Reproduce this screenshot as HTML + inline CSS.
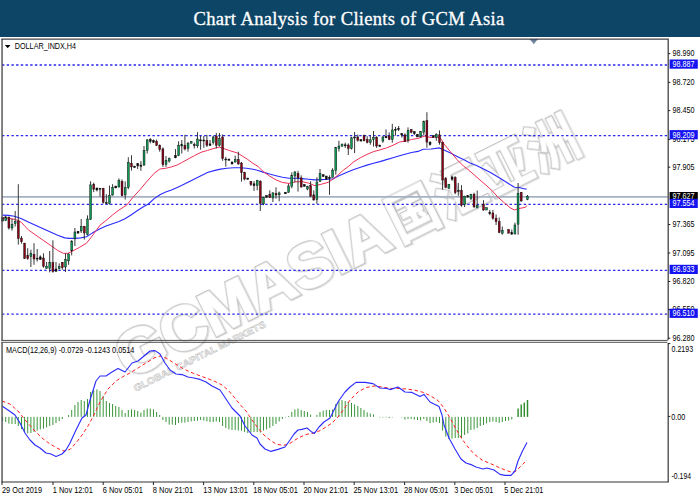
<!DOCTYPE html>
<html><head><meta charset="utf-8"><title>Chart Analysis for Clients of GCM Asia</title>
<style>
html,body{margin:0;padding:0;background:#fff;}
body{width:700px;height:500px;overflow:hidden;position:relative;font-family:"Liberation Sans",sans-serif;}
#hdr{position:absolute;left:0;top:0;width:700px;height:36.5px;background:#0d4567;}
#hdr h1{margin:0;position:absolute;left:0;width:700px;top:0.8px;height:36px;line-height:36px;-webkit-text-stroke:0.3px #fff;text-align:center;color:#fff;font-family:"Liberation Serif",serif;font-weight:normal;font-size:18.6px;letter-spacing:0.26px;word-spacing:0.4px;text-indent:-2px;}
svg{position:absolute;left:0;top:0;}
.lb{font-family:"Liberation Sans",sans-serif;font-size:8.3px;fill:#000;}
.lw{font-family:"Liberation Sans",sans-serif;font-size:8.3px;fill:#fff;}
.wm{font-family:"Liberation Sans","Noto Sans CJK SC",sans-serif;font-weight:bold;}
</style></head><body>
<div id="hdr"><h1>Chart Analysis for Clients of GCM Asia</h1></div>
<svg width="700" height="500" viewBox="0 0 700 500">
<defs><filter id="soft" x="0" y="0" width="100%" height="100%" filterUnits="userSpaceOnUse"><feGaussianBlur stdDeviation="0.32"/></filter><filter id="wsh" x="-10" y="-80" width="560" height="120" filterUnits="userSpaceOnUse"><feOffset in="SourceAlpha" dx="1.3" dy="1.3" result="o"/><feFlood flood-color="#e4e4e4"/><feComposite in2="o" operator="in" result="sh"/><feMerge><feMergeNode in="sh"/><feMergeNode in="SourceGraphic"/></feMerge></filter></defs>
<g class="wm" transform="translate(128.5,379.6) rotate(-26.5)" stroke-linejoin="miter">
<g filter="url(#wsh)">
<g fill="#c0c0c0" stroke="#c0c0c0" stroke-width="3.8">
<text font-size="63" x="0" y="0">GCMASIA</text>
</g>
<g fill="#c0c0c0" stroke="#c0c0c0" stroke-width="2.6">
<text transform="translate(0,-2.3) scale(0.98,1.09)" font-size="51" font-weight="700" font-family="Noto Sans CJK SC, sans-serif" x="309.9 363 416 469.1" y="0">国汇亚洲</text>
</g>
<g fill="#fff" stroke="#fff" stroke-width="1.7">
<text font-size="63" x="0" y="0">GCMASIA</text>
</g>
<g fill="#fff" stroke="#fff" stroke-width="0.5">
<text transform="translate(0,-2.3) scale(0.98,1.09)" font-size="51" font-weight="700" font-family="Noto Sans CJK SC, sans-serif" x="309.9 363 416 469.1" y="0">国汇亚洲</text>
</g>
</g>
<text font-size="9.6" x="1" y="14.2" fill="#fff" stroke="#bcbcbc" stroke-width="0.55" textLength="146" lengthAdjust="spacingAndGlyphs" font-weight="bold">GLOBAL CAPITAL MARKETS</text>
</g>
<g filter="url(#soft)">
<line x1="2" x2="668" y1="196.8" y2="196.8" stroke="#a6b2c2" stroke-width="1.7"/>
<line x1="2" x2="668" y1="65.0" y2="65.0" stroke="#2a2aee" stroke-width="1.3" stroke-dasharray="2.4 2.3"/>
<line x1="2" x2="668" y1="135.6" y2="135.6" stroke="#2a2aee" stroke-width="1.3" stroke-dasharray="2.4 2.3"/>
<line x1="2" x2="668" y1="204.3" y2="204.3" stroke="#2a2aee" stroke-width="1.3" stroke-dasharray="2.4 2.3"/>
<line x1="2" x2="668" y1="270.3" y2="270.3" stroke="#2a2aee" stroke-width="1.3" stroke-dasharray="2.4 2.3"/>
<line x1="2" x2="668" y1="314.2" y2="314.2" stroke="#2a2aee" stroke-width="1.3" stroke-dasharray="2.4 2.3"/>
<polyline points="2.6,215.1 8.6,215.4 14.4,216.2 21.6,218.7 28.8,222.3 36.0,225.5 43.2,228.8 50.4,232.1 57.6,235.3 64.8,237.9 69.2,238.4 74.9,238.4 80.7,237.9 86.5,236.7 92.2,233.1 100.0,228.8 106.0,226.0 112.5,223.7 119.0,221.5 125.0,218.7 131.0,215.0 137.5,210.5 143.0,207.0 148.4,204.0 154.2,198.6 159.9,194.7 165.7,192.1 171.5,189.9 177.2,187.4 181.5,185.5 188.0,182.2 194.5,179.0 201.0,175.7 207.5,172.5 214.0,170.6 220.5,169.1 227.0,168.3 233.5,167.8 240.0,167.7 246.5,168.2 253.0,169.3 258.2,170.5 263.0,172.1 269.5,174.0 276.0,175.7 282.5,177.3 289.0,178.2 295.5,178.2 302.0,178.6 308.5,179.2 315.0,179.9 321.5,179.6 328.0,179.2 333.2,178.7 338.4,175.9 343.6,173.7 348.8,171.6 354.0,169.6 360.5,167.2 367.0,165.1 373.5,163.3 380.0,161.6 386.5,159.6 393.0,157.7 399.5,155.7 406.0,154.0 411.5,152.5 418.0,151.4 423.2,149.2 431.0,149.0 439.5,147.9 444.0,150.0 450.5,153.1 457.0,156.4 463.5,159.6 470.0,162.9 476.5,165.5 483.0,168.7 490.5,172.5 498.0,177.0 504.0,180.7 510.0,184.5 514.5,187.2 519.0,187.5 525.0,189.0 526.8,189.0" fill="none" stroke="#2c2cff" stroke-width="1.12" stroke-linejoin="round"/>
<polyline points="2.6,217.7 8.6,218.3 14.4,219.4 18.7,220.6 21.6,222.6 25.2,226.6 28.8,230.2 36.0,235.3 43.2,240.3 50.4,245.3 57.6,250.4 63.4,253.3 67.7,253.3 72.0,251.4 79.3,247.5 86.5,243.2 92.2,236.0 100.0,225.2 106.0,220.5 112.5,215.0 119.0,210.0 126.8,205.0 132.6,197.8 139.8,189.9 147.0,181.3 154.2,173.3 159.9,169.0 165.7,168.3 171.5,166.9 177.2,165.0 181.5,162.7 188.0,159.1 194.5,155.6 201.0,152.3 207.5,150.4 214.0,148.4 219.2,147.1 223.1,148.4 229.6,150.6 237.4,153.0 242.6,156.2 247.8,159.5 253.0,163.4 258.2,166.6 263.0,171.4 269.5,176.0 276.0,179.9 282.5,182.5 289.0,183.4 295.5,181.8 302.0,181.6 308.5,183.1 315.0,185.7 321.5,184.2 328.0,182.4 333.2,179.1 338.4,174.6 343.6,170.0 348.8,166.1 354.0,161.6 360.5,157.7 367.0,154.4 373.5,151.6 380.0,149.9 386.5,147.9 393.0,145.3 399.5,142.0 406.0,141.1 411.5,139.5 418.0,138.4 424.5,136.2 431.0,137.5 436.2,136.9 440.1,137.5 444.0,144.0 450.5,151.8 457.0,159.6 463.5,166.1 468.0,169.5 474.0,174.7 480.0,180.0 486.0,185.2 492.0,190.5 498.0,197.2 504.0,202.5 510.0,207.7 514.5,210.0 519.0,208.5 525.0,207.4 527.2,205.5" fill="none" stroke="#ee3058" stroke-width="1.0" stroke-linejoin="round"/>
<line x1="2.6" x2="2.6" y1="217.7" y2="221.1" stroke="#222" stroke-width="0.9"/>
<rect x="1.65" y="217.7" width="1.9" height="3.4" fill="#111" stroke="#111" stroke-width="0.45"/>
<line x1="5.7" x2="5.7" y1="215.8" y2="221.1" stroke="#222" stroke-width="0.9"/>
<rect x="4.79" y="216.8" width="1.9" height="3.8" fill="#0a9a55" stroke="#111" stroke-width="0.45"/>
<line x1="8.9" x2="8.9" y1="216.5" y2="229.5" stroke="#222" stroke-width="0.9"/>
<rect x="7.94" y="217.2" width="1.9" height="10.8" fill="#8c0019" stroke="#111" stroke-width="0.45"/>
<line x1="12.0" x2="12.0" y1="218.7" y2="230.6" stroke="#222" stroke-width="0.9"/>
<rect x="11.08" y="224.5" width="1.9" height="3.5" fill="#0a9a55" stroke="#111" stroke-width="0.45"/>
<line x1="15.2" x2="15.2" y1="211.0" y2="226.6" stroke="#222" stroke-width="0.9"/>
<rect x="14.22" y="221.6" width="1.9" height="2.1" fill="#0a9a55" stroke="#111" stroke-width="0.45"/>
<line x1="18.3" x2="18.3" y1="184.2" y2="244.6" stroke="#222" stroke-width="0.9"/>
<rect x="17.37" y="220.9" width="1.9" height="17.5" fill="#8c0019" stroke="#111" stroke-width="0.45"/>
<line x1="21.5" x2="21.5" y1="236.0" y2="243.6" stroke="#222" stroke-width="0.9"/>
<rect x="20.51" y="238.1" width="1.9" height="3.6" fill="#8c0019" stroke="#111" stroke-width="0.45"/>
<line x1="24.6" x2="24.6" y1="242.8" y2="259.0" stroke="#222" stroke-width="0.9"/>
<rect x="23.65" y="243.2" width="1.9" height="15.1" fill="#8c0019" stroke="#111" stroke-width="0.45"/>
<line x1="27.7" x2="27.7" y1="248.2" y2="259.8" stroke="#222" stroke-width="0.9"/>
<rect x="26.79" y="255.4" width="1.9" height="3.2" fill="#8c0019" stroke="#111" stroke-width="0.45"/>
<line x1="30.9" x2="30.9" y1="249.7" y2="267.0" stroke="#222" stroke-width="0.9"/>
<rect x="29.94" y="253.3" width="1.9" height="3.3" fill="#0a9a55" stroke="#111" stroke-width="0.45"/>
<line x1="34.0" x2="34.0" y1="243.2" y2="264.8" stroke="#222" stroke-width="0.9"/>
<rect x="33.08" y="254.3" width="1.9" height="4.7" fill="#8c0019" stroke="#111" stroke-width="0.45"/>
<line x1="37.2" x2="37.2" y1="249.0" y2="261.5" stroke="#222" stroke-width="0.9"/>
<rect x="36.22" y="258.1" width="1.9" height="1.0" fill="#111" stroke="#111" stroke-width="0.45"/>
<line x1="40.3" x2="40.3" y1="255.4" y2="260.0" stroke="#222" stroke-width="0.9"/>
<rect x="39.37" y="256.9" width="1.9" height="2.6" fill="#111" stroke="#111" stroke-width="0.45"/>
<line x1="43.5" x2="43.5" y1="253.3" y2="267.7" stroke="#222" stroke-width="0.9"/>
<rect x="42.51" y="258.0" width="1.9" height="8.2" fill="#8c0019" stroke="#111" stroke-width="0.45"/>
<line x1="46.6" x2="46.6" y1="262.0" y2="268.7" stroke="#222" stroke-width="0.9"/>
<rect x="45.65" y="266.2" width="1.9" height="2.2" fill="#0a9a55" stroke="#111" stroke-width="0.45"/>
<line x1="49.7" x2="49.7" y1="251.0" y2="272.4" stroke="#222" stroke-width="0.9"/>
<rect x="48.79" y="262.3" width="1.9" height="6.1" fill="#0a9a55" stroke="#111" stroke-width="0.45"/>
<line x1="52.9" x2="52.9" y1="240.3" y2="272.7" stroke="#222" stroke-width="0.9"/>
<rect x="51.94" y="262.6" width="1.9" height="9.0" fill="#8c0019" stroke="#111" stroke-width="0.45"/>
<line x1="56.0" x2="56.0" y1="262.0" y2="271.6" stroke="#222" stroke-width="0.9"/>
<rect x="55.08" y="269.0" width="1.9" height="2.3" fill="#111" stroke="#111" stroke-width="0.45"/>
<line x1="59.2" x2="59.2" y1="263.4" y2="269.6" stroke="#222" stroke-width="0.9"/>
<rect x="58.22" y="266.7" width="1.9" height="2.0" fill="#0a9a55" stroke="#111" stroke-width="0.45"/>
<line x1="62.3" x2="62.3" y1="262.0" y2="269.8" stroke="#222" stroke-width="0.9"/>
<rect x="61.37" y="262.3" width="1.9" height="5.4" fill="#8c0019" stroke="#111" stroke-width="0.45"/>
<line x1="65.5" x2="65.5" y1="253.3" y2="272.0" stroke="#222" stroke-width="0.9"/>
<rect x="64.51" y="259.5" width="1.9" height="7.5" fill="#0a9a55" stroke="#111" stroke-width="0.45"/>
<line x1="68.6" x2="68.6" y1="253.3" y2="264.8" stroke="#222" stroke-width="0.9"/>
<rect x="67.65" y="254.0" width="1.9" height="6.9" fill="#0a9a55" stroke="#111" stroke-width="0.45"/>
<line x1="71.7" x2="71.7" y1="240.3" y2="255.4" stroke="#222" stroke-width="0.9"/>
<rect x="70.80" y="241.0" width="1.9" height="9.8" fill="#0a9a55" stroke="#111" stroke-width="0.45"/>
<line x1="74.9" x2="74.9" y1="228.0" y2="246.0" stroke="#222" stroke-width="0.9"/>
<rect x="73.94" y="232.0" width="1.9" height="6.9" fill="#0a9a55" stroke="#111" stroke-width="0.45"/>
<line x1="78.0" x2="78.0" y1="231.2" y2="233.2" stroke="#222" stroke-width="0.9"/>
<rect x="77.08" y="231.2" width="1.9" height="2.0" fill="#111" stroke="#111" stroke-width="0.45"/>
<line x1="81.2" x2="81.2" y1="219.0" y2="233.0" stroke="#222" stroke-width="0.9"/>
<rect x="80.22" y="226.3" width="1.9" height="4.7" fill="#0a9a55" stroke="#111" stroke-width="0.45"/>
<line x1="84.3" x2="84.3" y1="225.9" y2="239.6" stroke="#222" stroke-width="0.9"/>
<rect x="83.37" y="226.3" width="1.9" height="6.7" fill="#8c0019" stroke="#111" stroke-width="0.45"/>
<line x1="87.5" x2="87.5" y1="215.4" y2="235.3" stroke="#222" stroke-width="0.9"/>
<rect x="86.51" y="219.0" width="1.9" height="15.5" fill="#0a9a55" stroke="#111" stroke-width="0.45"/>
<line x1="90.6" x2="90.6" y1="181.3" y2="220.0" stroke="#222" stroke-width="0.9"/>
<rect x="89.65" y="184.9" width="1.9" height="34.5" fill="#0a9a55" stroke="#111" stroke-width="0.45"/>
<line x1="93.7" x2="93.7" y1="182.7" y2="192.1" stroke="#222" stroke-width="0.9"/>
<rect x="92.80" y="184.2" width="1.9" height="5.0" fill="#8c0019" stroke="#111" stroke-width="0.45"/>
<line x1="96.9" x2="96.9" y1="187.8" y2="191.4" stroke="#222" stroke-width="0.9"/>
<rect x="95.94" y="188.0" width="1.9" height="2.0" fill="#111" stroke="#111" stroke-width="0.45"/>
<line x1="100.0" x2="100.0" y1="188.2" y2="196.4" stroke="#222" stroke-width="0.9"/>
<rect x="99.08" y="188.2" width="1.9" height="1.0" fill="#111" stroke="#111" stroke-width="0.45"/>
<line x1="103.2" x2="103.2" y1="187.8" y2="203.6" stroke="#222" stroke-width="0.9"/>
<rect x="102.23" y="188.5" width="1.9" height="13.7" fill="#8c0019" stroke="#111" stroke-width="0.45"/>
<line x1="106.3" x2="106.3" y1="194.2" y2="204.3" stroke="#222" stroke-width="0.9"/>
<rect x="105.37" y="202.5" width="1.9" height="1.0" fill="#111" stroke="#111" stroke-width="0.45"/>
<line x1="109.5" x2="109.5" y1="185.6" y2="204.6" stroke="#222" stroke-width="0.9"/>
<rect x="108.51" y="195.2" width="1.9" height="8.4" fill="#0a9a55" stroke="#111" stroke-width="0.45"/>
<line x1="112.6" x2="112.6" y1="184.2" y2="195.7" stroke="#222" stroke-width="0.9"/>
<rect x="111.65" y="187.5" width="1.9" height="7.5" fill="#0a9a55" stroke="#111" stroke-width="0.45"/>
<line x1="115.7" x2="115.7" y1="186.0" y2="188.0" stroke="#222" stroke-width="0.9"/>
<rect x="114.80" y="186.0" width="1.9" height="2.0" fill="#111" stroke="#111" stroke-width="0.45"/>
<line x1="118.9" x2="118.9" y1="178.4" y2="187.5" stroke="#222" stroke-width="0.9"/>
<rect x="117.94" y="180.5" width="1.9" height="6.5" fill="#0a9a55" stroke="#111" stroke-width="0.45"/>
<line x1="122.0" x2="122.0" y1="179.4" y2="196.4" stroke="#222" stroke-width="0.9"/>
<rect x="121.08" y="181.3" width="1.9" height="14.4" fill="#8c0019" stroke="#111" stroke-width="0.45"/>
<line x1="125.2" x2="125.2" y1="181.3" y2="199.6" stroke="#222" stroke-width="0.9"/>
<rect x="124.23" y="187.5" width="1.9" height="7.5" fill="#0a9a55" stroke="#111" stroke-width="0.45"/>
<line x1="128.3" x2="128.3" y1="157.2" y2="189.2" stroke="#222" stroke-width="0.9"/>
<rect x="127.37" y="162.5" width="1.9" height="25.0" fill="#0a9a55" stroke="#111" stroke-width="0.45"/>
<line x1="131.5" x2="131.5" y1="155.3" y2="170.5" stroke="#222" stroke-width="0.9"/>
<rect x="130.51" y="163.3" width="1.9" height="3.6" fill="#8c0019" stroke="#111" stroke-width="0.45"/>
<line x1="134.6" x2="134.6" y1="166.1" y2="167.6" stroke="#222" stroke-width="0.9"/>
<rect x="133.66" y="166.1" width="1.9" height="1.5" fill="#111" stroke="#111" stroke-width="0.45"/>
<line x1="137.7" x2="137.7" y1="163.0" y2="169.0" stroke="#222" stroke-width="0.9"/>
<rect x="136.80" y="163.5" width="1.9" height="2.4" fill="#111" stroke="#111" stroke-width="0.45"/>
<line x1="140.9" x2="140.9" y1="161.1" y2="170.8" stroke="#222" stroke-width="0.9"/>
<rect x="139.94" y="165.0" width="1.9" height="1.4" fill="#111" stroke="#111" stroke-width="0.45"/>
<line x1="144.0" x2="144.0" y1="146.0" y2="165.9" stroke="#222" stroke-width="0.9"/>
<rect x="143.09" y="150.3" width="1.9" height="14.7" fill="#0a9a55" stroke="#111" stroke-width="0.45"/>
<line x1="147.2" x2="147.2" y1="139.0" y2="153.5" stroke="#222" stroke-width="0.9"/>
<rect x="146.23" y="139.9" width="1.9" height="10.4" fill="#0a9a55" stroke="#111" stroke-width="0.45"/>
<line x1="150.3" x2="150.3" y1="138.0" y2="143.4" stroke="#222" stroke-width="0.9"/>
<rect x="149.37" y="139.5" width="1.9" height="1.9" fill="#111" stroke="#111" stroke-width="0.45"/>
<line x1="153.5" x2="153.5" y1="139.5" y2="143.0" stroke="#222" stroke-width="0.9"/>
<rect x="152.51" y="140.5" width="1.9" height="1.9" fill="#111" stroke="#111" stroke-width="0.45"/>
<line x1="156.6" x2="156.6" y1="139.5" y2="146.0" stroke="#222" stroke-width="0.9"/>
<rect x="155.66" y="141.4" width="1.9" height="3.8" fill="#8c0019" stroke="#111" stroke-width="0.45"/>
<line x1="159.7" x2="159.7" y1="144.5" y2="151.7" stroke="#222" stroke-width="0.9"/>
<rect x="158.80" y="145.2" width="1.9" height="4.4" fill="#8c0019" stroke="#111" stroke-width="0.45"/>
<line x1="162.9" x2="162.9" y1="147.4" y2="166.9" stroke="#222" stroke-width="0.9"/>
<rect x="161.94" y="148.9" width="1.9" height="15.8" fill="#8c0019" stroke="#111" stroke-width="0.45"/>
<line x1="166.0" x2="166.0" y1="156.0" y2="166.9" stroke="#222" stroke-width="0.9"/>
<rect x="165.09" y="160.4" width="1.9" height="4.0" fill="#0a9a55" stroke="#111" stroke-width="0.45"/>
<line x1="169.2" x2="169.2" y1="157.5" y2="162.5" stroke="#222" stroke-width="0.9"/>
<rect x="168.23" y="158.6" width="1.9" height="2.5" fill="#0a9a55" stroke="#111" stroke-width="0.45"/>
<line x1="175.5" x2="175.5" y1="149.1" y2="158.2" stroke="#222" stroke-width="0.9"/>
<rect x="174.51" y="155.3" width="1.9" height="2.5" fill="#111" stroke="#111" stroke-width="0.45"/>
<line x1="178.6" x2="178.6" y1="141.3" y2="156.2" stroke="#222" stroke-width="0.9"/>
<rect x="177.66" y="145.2" width="1.9" height="10.4" fill="#0a9a55" stroke="#111" stroke-width="0.45"/>
<line x1="181.8" x2="181.8" y1="140.0" y2="153.5" stroke="#222" stroke-width="0.9"/>
<rect x="180.80" y="144.3" width="1.9" height="1.7" fill="#0a9a55" stroke="#111" stroke-width="0.45"/>
<line x1="184.9" x2="184.9" y1="134.8" y2="150.4" stroke="#222" stroke-width="0.9"/>
<rect x="183.94" y="145.2" width="1.9" height="3.8" fill="#8c0019" stroke="#111" stroke-width="0.45"/>
<line x1="188.0" x2="188.0" y1="141.9" y2="151.7" stroke="#222" stroke-width="0.9"/>
<rect x="187.09" y="143.2" width="1.9" height="5.2" fill="#0a9a55" stroke="#111" stroke-width="0.45"/>
<line x1="191.2" x2="191.2" y1="141.0" y2="143.5" stroke="#222" stroke-width="0.9"/>
<rect x="190.23" y="141.3" width="1.9" height="1.9" fill="#0a9a55" stroke="#111" stroke-width="0.45"/>
<line x1="194.3" x2="194.3" y1="142.6" y2="148.4" stroke="#222" stroke-width="0.9"/>
<rect x="193.37" y="144.7" width="1.9" height="1.0" fill="#111" stroke="#111" stroke-width="0.45"/>
<line x1="197.5" x2="197.5" y1="132.2" y2="147.8" stroke="#222" stroke-width="0.9"/>
<rect x="196.52" y="139.0" width="1.9" height="6.8" fill="#0a9a55" stroke="#111" stroke-width="0.45"/>
<line x1="200.6" x2="200.6" y1="136.0" y2="149.7" stroke="#222" stroke-width="0.9"/>
<rect x="199.66" y="139.9" width="1.9" height="1.0" fill="#111" stroke="#111" stroke-width="0.45"/>
<line x1="203.8" x2="203.8" y1="136.0" y2="147.8" stroke="#222" stroke-width="0.9"/>
<rect x="202.80" y="140.0" width="1.9" height="1.0" fill="#111" stroke="#111" stroke-width="0.45"/>
<line x1="206.9" x2="206.9" y1="134.8" y2="147.0" stroke="#222" stroke-width="0.9"/>
<rect x="205.94" y="140.6" width="1.9" height="4.6" fill="#8c0019" stroke="#111" stroke-width="0.45"/>
<line x1="210.0" x2="210.0" y1="140.0" y2="145.8" stroke="#222" stroke-width="0.9"/>
<rect x="209.09" y="143.9" width="1.9" height="1.6" fill="#111" stroke="#111" stroke-width="0.45"/>
<line x1="213.2" x2="213.2" y1="136.0" y2="144.5" stroke="#222" stroke-width="0.9"/>
<rect x="212.23" y="137.0" width="1.9" height="5.6" fill="#0a9a55" stroke="#111" stroke-width="0.45"/>
<line x1="216.3" x2="216.3" y1="132.8" y2="148.4" stroke="#222" stroke-width="0.9"/>
<rect x="215.37" y="136.0" width="1.9" height="9.2" fill="#8c0019" stroke="#111" stroke-width="0.45"/>
<line x1="219.5" x2="219.5" y1="133.0" y2="146.5" stroke="#222" stroke-width="0.9"/>
<rect x="218.52" y="138.7" width="1.9" height="6.8" fill="#0a9a55" stroke="#111" stroke-width="0.45"/>
<line x1="222.6" x2="222.6" y1="134.4" y2="160.8" stroke="#222" stroke-width="0.9"/>
<rect x="221.66" y="137.0" width="1.9" height="21.5" fill="#8c0019" stroke="#111" stroke-width="0.45"/>
<line x1="225.8" x2="225.8" y1="156.9" y2="166.6" stroke="#222" stroke-width="0.9"/>
<rect x="224.80" y="159.0" width="1.9" height="1.0" fill="#111" stroke="#111" stroke-width="0.45"/>
<line x1="228.9" x2="228.9" y1="159.0" y2="160.4" stroke="#222" stroke-width="0.9"/>
<rect x="227.95" y="159.0" width="1.9" height="1.4" fill="#111" stroke="#111" stroke-width="0.45"/>
<line x1="232.0" x2="232.0" y1="161.5" y2="164.3" stroke="#222" stroke-width="0.9"/>
<rect x="231.09" y="162.0" width="1.9" height="2.0" fill="#111" stroke="#111" stroke-width="0.45"/>
<line x1="235.2" x2="235.2" y1="155.6" y2="162.7" stroke="#222" stroke-width="0.9"/>
<rect x="234.23" y="159.5" width="1.9" height="2.5" fill="#0a9a55" stroke="#111" stroke-width="0.45"/>
<line x1="238.3" x2="238.3" y1="151.7" y2="164.7" stroke="#222" stroke-width="0.9"/>
<rect x="237.38" y="159.5" width="1.9" height="4.5" fill="#8c0019" stroke="#111" stroke-width="0.45"/>
<line x1="241.5" x2="241.5" y1="162.0" y2="181.6" stroke="#222" stroke-width="0.9"/>
<rect x="240.52" y="163.0" width="1.9" height="9.5" fill="#8c0019" stroke="#111" stroke-width="0.45"/>
<line x1="244.6" x2="244.6" y1="171.8" y2="180.3" stroke="#222" stroke-width="0.9"/>
<rect x="243.66" y="172.5" width="1.9" height="6.5" fill="#8c0019" stroke="#111" stroke-width="0.45"/>
<line x1="247.8" x2="247.8" y1="178.0" y2="179.4" stroke="#222" stroke-width="0.9"/>
<rect x="246.80" y="178.0" width="1.9" height="1.4" fill="#111" stroke="#111" stroke-width="0.45"/>
<line x1="250.9" x2="250.9" y1="181.0" y2="186.0" stroke="#222" stroke-width="0.9"/>
<rect x="249.95" y="181.6" width="1.9" height="3.0" fill="#8c0019" stroke="#111" stroke-width="0.45"/>
<line x1="254.0" x2="254.0" y1="181.2" y2="190.9" stroke="#222" stroke-width="0.9"/>
<rect x="253.09" y="183.8" width="1.9" height="1.9" fill="#111" stroke="#111" stroke-width="0.45"/>
<line x1="257.2" x2="257.2" y1="179.9" y2="190.3" stroke="#222" stroke-width="0.9"/>
<rect x="256.23" y="180.5" width="1.9" height="5.2" fill="#0a9a55" stroke="#111" stroke-width="0.45"/>
<line x1="260.3" x2="260.3" y1="180.2" y2="211.0" stroke="#222" stroke-width="0.9"/>
<rect x="259.38" y="181.2" width="1.9" height="22.1" fill="#8c0019" stroke="#111" stroke-width="0.45"/>
<line x1="263.5" x2="263.5" y1="196.8" y2="205.2" stroke="#222" stroke-width="0.9"/>
<rect x="262.52" y="197.2" width="1.9" height="6.7" fill="#0a9a55" stroke="#111" stroke-width="0.45"/>
<line x1="266.6" x2="266.6" y1="195.5" y2="197.4" stroke="#222" stroke-width="0.9"/>
<rect x="265.66" y="195.5" width="1.9" height="1.9" fill="#111" stroke="#111" stroke-width="0.45"/>
<line x1="269.8" x2="269.8" y1="190.3" y2="198.0" stroke="#222" stroke-width="0.9"/>
<rect x="268.81" y="194.2" width="1.9" height="3.2" fill="#8c0019" stroke="#111" stroke-width="0.45"/>
<line x1="272.9" x2="272.9" y1="192.2" y2="202.0" stroke="#222" stroke-width="0.9"/>
<rect x="271.95" y="192.9" width="1.9" height="5.1" fill="#0a9a55" stroke="#111" stroke-width="0.45"/>
<line x1="276.0" x2="276.0" y1="187.3" y2="198.7" stroke="#222" stroke-width="0.9"/>
<rect x="275.09" y="193.3" width="1.9" height="1.7" fill="#8c0019" stroke="#111" stroke-width="0.45"/>
<line x1="279.2" x2="279.2" y1="191.6" y2="201.3" stroke="#222" stroke-width="0.9"/>
<rect x="278.23" y="192.9" width="1.9" height="1.9" fill="#0a9a55" stroke="#111" stroke-width="0.45"/>
<line x1="285.5" x2="285.5" y1="192.2" y2="193.8" stroke="#222" stroke-width="0.9"/>
<rect x="284.52" y="192.2" width="1.9" height="1.6" fill="#111" stroke="#111" stroke-width="0.45"/>
<line x1="288.6" x2="288.6" y1="183.8" y2="192.9" stroke="#222" stroke-width="0.9"/>
<rect x="287.66" y="186.0" width="1.9" height="6.2" fill="#0a9a55" stroke="#111" stroke-width="0.45"/>
<line x1="291.8" x2="291.8" y1="172.4" y2="188.3" stroke="#222" stroke-width="0.9"/>
<rect x="290.81" y="175.3" width="1.9" height="11.1" fill="#0a9a55" stroke="#111" stroke-width="0.45"/>
<line x1="294.9" x2="294.9" y1="171.1" y2="182.5" stroke="#222" stroke-width="0.9"/>
<rect x="293.95" y="172.0" width="1.9" height="4.0" fill="#0a9a55" stroke="#111" stroke-width="0.45"/>
<line x1="298.0" x2="298.0" y1="170.8" y2="191.6" stroke="#222" stroke-width="0.9"/>
<rect x="297.09" y="173.4" width="1.9" height="4.5" fill="#8c0019" stroke="#111" stroke-width="0.45"/>
<line x1="301.2" x2="301.2" y1="175.3" y2="187.7" stroke="#222" stroke-width="0.9"/>
<rect x="300.24" y="177.9" width="1.9" height="9.1" fill="#8c0019" stroke="#111" stroke-width="0.45"/>
<line x1="304.3" x2="304.3" y1="184.4" y2="186.4" stroke="#222" stroke-width="0.9"/>
<rect x="303.38" y="184.4" width="1.9" height="2.0" fill="#111" stroke="#111" stroke-width="0.45"/>
<line x1="307.5" x2="307.5" y1="185.7" y2="190.3" stroke="#222" stroke-width="0.9"/>
<rect x="306.52" y="186.4" width="1.9" height="2.6" fill="#0a9a55" stroke="#111" stroke-width="0.45"/>
<line x1="310.6" x2="310.6" y1="181.2" y2="197.2" stroke="#222" stroke-width="0.9"/>
<rect x="309.66" y="185.7" width="1.9" height="10.4" fill="#8c0019" stroke="#111" stroke-width="0.45"/>
<line x1="313.8" x2="313.8" y1="190.3" y2="200.7" stroke="#222" stroke-width="0.9"/>
<rect x="312.81" y="194.8" width="1.9" height="5.2" fill="#8c0019" stroke="#111" stroke-width="0.45"/>
<line x1="316.9" x2="316.9" y1="177.3" y2="203.9" stroke="#222" stroke-width="0.9"/>
<rect x="315.95" y="182.0" width="1.9" height="17.4" fill="#0a9a55" stroke="#111" stroke-width="0.45"/>
<line x1="320.0" x2="320.0" y1="169.0" y2="182.0" stroke="#222" stroke-width="0.9"/>
<rect x="319.09" y="173.4" width="1.9" height="7.8" fill="#0a9a55" stroke="#111" stroke-width="0.45"/>
<line x1="323.2" x2="323.2" y1="174.7" y2="176.6" stroke="#222" stroke-width="0.9"/>
<rect x="322.24" y="174.7" width="1.9" height="1.9" fill="#111" stroke="#111" stroke-width="0.45"/>
<line x1="326.3" x2="326.3" y1="176.0" y2="179.2" stroke="#222" stroke-width="0.9"/>
<rect x="325.38" y="176.0" width="1.9" height="3.2" fill="#111" stroke="#111" stroke-width="0.45"/>
<line x1="329.5" x2="329.5" y1="175.3" y2="194.8" stroke="#222" stroke-width="0.9"/>
<rect x="328.52" y="177.3" width="1.9" height="1.3" fill="#111" stroke="#111" stroke-width="0.45"/>
<line x1="332.6" x2="332.6" y1="168.2" y2="177.6" stroke="#222" stroke-width="0.9"/>
<rect x="331.67" y="170.1" width="1.9" height="7.2" fill="#0a9a55" stroke="#111" stroke-width="0.45"/>
<line x1="335.8" x2="335.8" y1="146.9" y2="174.6" stroke="#222" stroke-width="0.9"/>
<rect x="334.81" y="147.6" width="1.9" height="23.1" fill="#0a9a55" stroke="#111" stroke-width="0.45"/>
<line x1="338.9" x2="338.9" y1="140.8" y2="151.5" stroke="#222" stroke-width="0.9"/>
<rect x="337.95" y="146.0" width="1.9" height="2.6" fill="#0a9a55" stroke="#111" stroke-width="0.45"/>
<line x1="342.0" x2="342.0" y1="144.0" y2="146.3" stroke="#222" stroke-width="0.9"/>
<rect x="341.09" y="144.0" width="1.9" height="2.3" fill="#0a9a55" stroke="#111" stroke-width="0.45"/>
<line x1="345.2" x2="345.2" y1="142.7" y2="147.9" stroke="#222" stroke-width="0.9"/>
<rect x="344.24" y="144.8" width="1.9" height="1.0" fill="#111" stroke="#111" stroke-width="0.45"/>
<line x1="348.3" x2="348.3" y1="143.4" y2="155.0" stroke="#222" stroke-width="0.9"/>
<rect x="347.38" y="145.0" width="1.9" height="3.6" fill="#8c0019" stroke="#111" stroke-width="0.45"/>
<line x1="351.5" x2="351.5" y1="136.9" y2="149.5" stroke="#222" stroke-width="0.9"/>
<rect x="350.52" y="137.8" width="1.9" height="10.8" fill="#0a9a55" stroke="#111" stroke-width="0.45"/>
<line x1="354.6" x2="354.6" y1="132.0" y2="153.1" stroke="#222" stroke-width="0.9"/>
<rect x="353.67" y="137.0" width="1.9" height="1.0" fill="#111" stroke="#111" stroke-width="0.45"/>
<line x1="357.8" x2="357.8" y1="134.6" y2="141.7" stroke="#222" stroke-width="0.9"/>
<rect x="356.81" y="136.9" width="1.9" height="3.5" fill="#8c0019" stroke="#111" stroke-width="0.45"/>
<line x1="360.9" x2="360.9" y1="139.5" y2="141.1" stroke="#222" stroke-width="0.9"/>
<rect x="359.95" y="139.5" width="1.9" height="1.6" fill="#111" stroke="#111" stroke-width="0.45"/>
<line x1="364.0" x2="364.0" y1="134.6" y2="141.4" stroke="#222" stroke-width="0.9"/>
<rect x="363.10" y="135.6" width="1.9" height="5.2" fill="#8c0019" stroke="#111" stroke-width="0.45"/>
<line x1="367.2" x2="367.2" y1="136.2" y2="143.4" stroke="#222" stroke-width="0.9"/>
<rect x="366.24" y="139.5" width="1.9" height="2.9" fill="#8c0019" stroke="#111" stroke-width="0.45"/>
<line x1="370.3" x2="370.3" y1="135.6" y2="144.7" stroke="#222" stroke-width="0.9"/>
<rect x="369.38" y="139.8" width="1.9" height="2.6" fill="#0a9a55" stroke="#111" stroke-width="0.45"/>
<line x1="373.5" x2="373.5" y1="131.0" y2="146.6" stroke="#222" stroke-width="0.9"/>
<rect x="372.52" y="137.2" width="1.9" height="2.3" fill="#0a9a55" stroke="#111" stroke-width="0.45"/>
<line x1="376.6" x2="376.6" y1="136.2" y2="147.9" stroke="#222" stroke-width="0.9"/>
<rect x="375.67" y="137.2" width="1.9" height="8.8" fill="#8c0019" stroke="#111" stroke-width="0.45"/>
<line x1="379.8" x2="379.8" y1="145.0" y2="146.6" stroke="#222" stroke-width="0.9"/>
<rect x="378.81" y="145.0" width="1.9" height="1.6" fill="#111" stroke="#111" stroke-width="0.45"/>
<line x1="382.9" x2="382.9" y1="136.2" y2="142.7" stroke="#222" stroke-width="0.9"/>
<rect x="381.95" y="136.9" width="1.9" height="4.2" fill="#0a9a55" stroke="#111" stroke-width="0.45"/>
<line x1="386.0" x2="386.0" y1="129.4" y2="138.2" stroke="#222" stroke-width="0.9"/>
<rect x="385.10" y="136.2" width="1.9" height="1.6" fill="#111" stroke="#111" stroke-width="0.45"/>
<line x1="389.2" x2="389.2" y1="132.3" y2="140.1" stroke="#222" stroke-width="0.9"/>
<rect x="388.24" y="135.9" width="1.9" height="3.6" fill="#8c0019" stroke="#111" stroke-width="0.45"/>
<line x1="392.3" x2="392.3" y1="123.9" y2="142.7" stroke="#222" stroke-width="0.9"/>
<rect x="391.38" y="130.0" width="1.9" height="9.5" fill="#0a9a55" stroke="#111" stroke-width="0.45"/>
<line x1="395.5" x2="395.5" y1="126.8" y2="135.6" stroke="#222" stroke-width="0.9"/>
<rect x="394.53" y="129.2" width="1.9" height="1.0" fill="#111" stroke="#111" stroke-width="0.45"/>
<line x1="398.6" x2="398.6" y1="126.0" y2="131.0" stroke="#222" stroke-width="0.9"/>
<rect x="397.67" y="128.5" width="1.9" height="1.0" fill="#111" stroke="#111" stroke-width="0.45"/>
<line x1="401.8" x2="401.8" y1="133.3" y2="137.5" stroke="#222" stroke-width="0.9"/>
<rect x="400.81" y="133.6" width="1.9" height="1.4" fill="#111" stroke="#111" stroke-width="0.45"/>
<line x1="404.9" x2="404.9" y1="133.3" y2="142.0" stroke="#222" stroke-width="0.9"/>
<rect x="403.95" y="134.9" width="1.9" height="6.8" fill="#8c0019" stroke="#111" stroke-width="0.45"/>
<line x1="408.0" x2="408.0" y1="127.4" y2="142.7" stroke="#222" stroke-width="0.9"/>
<rect x="407.10" y="130.4" width="1.9" height="9.7" fill="#0a9a55" stroke="#111" stroke-width="0.45"/>
<line x1="411.2" x2="411.2" y1="129.0" y2="133.3" stroke="#222" stroke-width="0.9"/>
<rect x="410.24" y="129.7" width="1.9" height="2.6" fill="#8c0019" stroke="#111" stroke-width="0.45"/>
<line x1="414.3" x2="414.3" y1="131.0" y2="135.0" stroke="#222" stroke-width="0.9"/>
<rect x="413.38" y="131.7" width="1.9" height="1.9" fill="#111" stroke="#111" stroke-width="0.45"/>
<line x1="417.5" x2="417.5" y1="134.3" y2="136.9" stroke="#222" stroke-width="0.9"/>
<rect x="416.53" y="134.3" width="1.9" height="2.6" fill="#111" stroke="#111" stroke-width="0.45"/>
<line x1="420.6" x2="420.6" y1="131.0" y2="137.5" stroke="#222" stroke-width="0.9"/>
<rect x="419.67" y="131.7" width="1.9" height="5.2" fill="#0a9a55" stroke="#111" stroke-width="0.45"/>
<line x1="423.8" x2="423.8" y1="120.6" y2="135.6" stroke="#222" stroke-width="0.9"/>
<rect x="422.81" y="121.3" width="1.9" height="11.0" fill="#0a9a55" stroke="#111" stroke-width="0.45"/>
<line x1="426.9" x2="426.9" y1="112.2" y2="147.7" stroke="#222" stroke-width="0.9"/>
<rect x="425.95" y="120.6" width="1.9" height="21.5" fill="#8c0019" stroke="#111" stroke-width="0.45"/>
<line x1="430.0" x2="430.0" y1="141.4" y2="145.6" stroke="#222" stroke-width="0.9"/>
<rect x="429.10" y="142.1" width="1.9" height="2.6" fill="#111" stroke="#111" stroke-width="0.45"/>
<line x1="433.2" x2="433.2" y1="135.6" y2="137.5" stroke="#222" stroke-width="0.9"/>
<rect x="432.24" y="135.6" width="1.9" height="1.9" fill="#111" stroke="#111" stroke-width="0.45"/>
<line x1="436.3" x2="436.3" y1="133.3" y2="140.8" stroke="#222" stroke-width="0.9"/>
<rect x="435.38" y="134.6" width="1.9" height="2.9" fill="#0a9a55" stroke="#111" stroke-width="0.45"/>
<line x1="439.5" x2="439.5" y1="130.4" y2="144.7" stroke="#222" stroke-width="0.9"/>
<rect x="438.53" y="134.9" width="1.9" height="7.8" fill="#8c0019" stroke="#111" stroke-width="0.45"/>
<line x1="442.6" x2="442.6" y1="142.0" y2="189.7" stroke="#222" stroke-width="0.9"/>
<rect x="441.67" y="142.1" width="1.9" height="37.9" fill="#8c0019" stroke="#111" stroke-width="0.45"/>
<line x1="445.8" x2="445.8" y1="177.0" y2="188.2" stroke="#222" stroke-width="0.9"/>
<rect x="444.81" y="178.5" width="1.9" height="9.0" fill="#8c0019" stroke="#111" stroke-width="0.45"/>
<line x1="448.9" x2="448.9" y1="184.0" y2="188.5" stroke="#222" stroke-width="0.9"/>
<rect x="447.96" y="184.2" width="1.9" height="4.0" fill="#0a9a55" stroke="#111" stroke-width="0.45"/>
<line x1="452.0" x2="452.0" y1="175.8" y2="180.7" stroke="#222" stroke-width="0.9"/>
<rect x="451.10" y="177.0" width="1.9" height="2.2" fill="#111" stroke="#111" stroke-width="0.45"/>
<line x1="455.2" x2="455.2" y1="176.2" y2="194.2" stroke="#222" stroke-width="0.9"/>
<rect x="454.24" y="177.7" width="1.9" height="15.0" fill="#8c0019" stroke="#111" stroke-width="0.45"/>
<line x1="458.3" x2="458.3" y1="183.0" y2="195.7" stroke="#222" stroke-width="0.9"/>
<rect x="457.38" y="190.5" width="1.9" height="1.0" fill="#111" stroke="#111" stroke-width="0.45"/>
<line x1="461.5" x2="461.5" y1="185.2" y2="206.7" stroke="#222" stroke-width="0.9"/>
<rect x="460.53" y="190.5" width="1.9" height="14.7" fill="#8c0019" stroke="#111" stroke-width="0.45"/>
<line x1="464.6" x2="464.6" y1="195.7" y2="207.0" stroke="#222" stroke-width="0.9"/>
<rect x="463.67" y="196.5" width="1.9" height="8.2" fill="#0a9a55" stroke="#111" stroke-width="0.45"/>
<line x1="467.8" x2="467.8" y1="195.7" y2="197.2" stroke="#222" stroke-width="0.9"/>
<rect x="466.81" y="195.7" width="1.9" height="1.5" fill="#111" stroke="#111" stroke-width="0.45"/>
<line x1="470.9" x2="470.9" y1="193.8" y2="200.2" stroke="#222" stroke-width="0.9"/>
<rect x="469.96" y="194.7" width="1.9" height="4.0" fill="#0a9a55" stroke="#111" stroke-width="0.45"/>
<line x1="474.1" x2="474.1" y1="192.7" y2="207.7" stroke="#222" stroke-width="0.9"/>
<rect x="473.10" y="194.2" width="1.9" height="12.8" fill="#8c0019" stroke="#111" stroke-width="0.45"/>
<line x1="477.2" x2="477.2" y1="190.5" y2="208.5" stroke="#222" stroke-width="0.9"/>
<rect x="476.24" y="205.2" width="1.9" height="2.5" fill="#0a9a55" stroke="#111" stroke-width="0.45"/>
<line x1="483.5" x2="483.5" y1="200.2" y2="210.7" stroke="#222" stroke-width="0.9"/>
<rect x="482.53" y="204.3" width="1.9" height="5.7" fill="#8c0019" stroke="#111" stroke-width="0.45"/>
<line x1="486.6" x2="486.6" y1="207.7" y2="210.0" stroke="#222" stroke-width="0.9"/>
<rect x="485.67" y="207.7" width="1.9" height="2.3" fill="#0a9a55" stroke="#111" stroke-width="0.45"/>
<line x1="489.8" x2="489.8" y1="210.0" y2="215.2" stroke="#222" stroke-width="0.9"/>
<rect x="488.81" y="212.2" width="1.9" height="1.5" fill="#111" stroke="#111" stroke-width="0.45"/>
<line x1="492.9" x2="492.9" y1="210.0" y2="219.7" stroke="#222" stroke-width="0.9"/>
<rect x="491.96" y="213.0" width="1.9" height="5.2" fill="#8c0019" stroke="#111" stroke-width="0.45"/>
<line x1="496.1" x2="496.1" y1="214.5" y2="225.0" stroke="#222" stroke-width="0.9"/>
<rect x="495.10" y="218.2" width="1.9" height="3.5" fill="#8c0019" stroke="#111" stroke-width="0.45"/>
<line x1="499.2" x2="499.2" y1="217.5" y2="233.2" stroke="#222" stroke-width="0.9"/>
<rect x="498.24" y="221.7" width="1.9" height="10.8" fill="#8c0019" stroke="#111" stroke-width="0.45"/>
<line x1="502.3" x2="502.3" y1="226.5" y2="234.7" stroke="#222" stroke-width="0.9"/>
<rect x="501.39" y="230.2" width="1.9" height="3.0" fill="#0a9a55" stroke="#111" stroke-width="0.45"/>
<line x1="508.6" x2="508.6" y1="229.5" y2="233.2" stroke="#222" stroke-width="0.9"/>
<rect x="507.67" y="229.5" width="1.9" height="3.7" fill="#8c0019" stroke="#111" stroke-width="0.45"/>
<line x1="511.8" x2="511.8" y1="229.5" y2="234.3" stroke="#222" stroke-width="0.9"/>
<rect x="510.82" y="232.5" width="1.9" height="1.8" fill="#111" stroke="#111" stroke-width="0.45"/>
<line x1="514.9" x2="514.9" y1="222.7" y2="234.3" stroke="#222" stroke-width="0.9"/>
<rect x="513.96" y="225.0" width="1.9" height="9.0" fill="#0a9a55" stroke="#111" stroke-width="0.45"/>
<line x1="518.1" x2="518.1" y1="183.0" y2="234.7" stroke="#222" stroke-width="0.9"/>
<rect x="517.10" y="193.2" width="1.9" height="31.0" fill="#0a9a55" stroke="#111" stroke-width="0.45"/>
<line x1="521.2" x2="521.2" y1="192.0" y2="201.7" stroke="#222" stroke-width="0.9"/>
<rect x="520.24" y="192.3" width="1.9" height="8.7" fill="#8c0019" stroke="#111" stroke-width="0.45"/>
<line x1="527.5" x2="527.5" y1="195.0" y2="200.2" stroke="#222" stroke-width="0.9"/>
<rect x="526.53" y="196.2" width="1.9" height="3.3" fill="#0a9a55" stroke="#111" stroke-width="0.45"/>
<line x1="2.6" x2="2.6" y1="416.9" y2="421.0" stroke="#2f8e2f" stroke-width="0.95"/>
<line x1="5.7" x2="5.7" y1="416.9" y2="422.0" stroke="#2f8e2f" stroke-width="0.95"/>
<line x1="8.9" x2="8.9" y1="416.9" y2="423.6" stroke="#2f8e2f" stroke-width="0.95"/>
<line x1="12.0" x2="12.0" y1="416.9" y2="424.0" stroke="#2f8e2f" stroke-width="0.95"/>
<line x1="15.2" x2="15.2" y1="416.9" y2="424.0" stroke="#2f8e2f" stroke-width="0.95"/>
<line x1="18.3" x2="18.3" y1="416.9" y2="426.0" stroke="#2f8e2f" stroke-width="0.95"/>
<line x1="21.5" x2="21.5" y1="416.9" y2="429.0" stroke="#2f8e2f" stroke-width="0.95"/>
<line x1="24.6" x2="24.6" y1="416.9" y2="432.0" stroke="#2f8e2f" stroke-width="0.95"/>
<line x1="27.7" x2="27.7" y1="416.9" y2="433.4" stroke="#2f8e2f" stroke-width="0.95"/>
<line x1="30.9" x2="30.9" y1="416.9" y2="433.0" stroke="#2f8e2f" stroke-width="0.95"/>
<line x1="34.0" x2="34.0" y1="416.9" y2="432.0" stroke="#2f8e2f" stroke-width="0.95"/>
<line x1="37.2" x2="37.2" y1="416.9" y2="430.6" stroke="#2f8e2f" stroke-width="0.95"/>
<line x1="40.3" x2="40.3" y1="416.9" y2="429.4" stroke="#2f8e2f" stroke-width="0.95"/>
<line x1="43.5" x2="43.5" y1="416.9" y2="428.6" stroke="#2f8e2f" stroke-width="0.95"/>
<line x1="46.6" x2="46.6" y1="416.9" y2="427.4" stroke="#2f8e2f" stroke-width="0.95"/>
<line x1="49.7" x2="49.7" y1="416.9" y2="426.0" stroke="#2f8e2f" stroke-width="0.95"/>
<line x1="52.9" x2="52.9" y1="416.9" y2="425.0" stroke="#2f8e2f" stroke-width="0.95"/>
<line x1="56.0" x2="56.0" y1="416.9" y2="423.0" stroke="#2f8e2f" stroke-width="0.95"/>
<line x1="59.2" x2="59.2" y1="416.9" y2="421.0" stroke="#2f8e2f" stroke-width="0.95"/>
<line x1="62.3" x2="62.3" y1="416.9" y2="419.0" stroke="#2f8e2f" stroke-width="0.95"/>
<line x1="68.6" x2="68.6" y1="416.9" y2="415.0" stroke="#2f8e2f" stroke-width="0.95"/>
<line x1="71.7" x2="71.7" y1="416.9" y2="410.0" stroke="#2f8e2f" stroke-width="0.95"/>
<line x1="74.9" x2="74.9" y1="416.9" y2="405.0" stroke="#2f8e2f" stroke-width="0.95"/>
<line x1="78.0" x2="78.0" y1="416.9" y2="402.0" stroke="#2f8e2f" stroke-width="0.95"/>
<line x1="81.2" x2="81.2" y1="416.9" y2="400.0" stroke="#2f8e2f" stroke-width="0.95"/>
<line x1="84.3" x2="84.3" y1="416.9" y2="401.0" stroke="#2f8e2f" stroke-width="0.95"/>
<line x1="87.5" x2="87.5" y1="416.9" y2="399.0" stroke="#2f8e2f" stroke-width="0.95"/>
<line x1="90.6" x2="90.6" y1="416.9" y2="392.0" stroke="#2f8e2f" stroke-width="0.95"/>
<line x1="93.7" x2="93.7" y1="416.9" y2="390.0" stroke="#2f8e2f" stroke-width="0.95"/>
<line x1="96.9" x2="96.9" y1="416.9" y2="389.4" stroke="#2f8e2f" stroke-width="0.95"/>
<line x1="100.0" x2="100.0" y1="416.9" y2="391.0" stroke="#2f8e2f" stroke-width="0.95"/>
<line x1="103.2" x2="103.2" y1="416.9" y2="396.0" stroke="#2f8e2f" stroke-width="0.95"/>
<line x1="106.3" x2="106.3" y1="416.9" y2="401.0" stroke="#2f8e2f" stroke-width="0.95"/>
<line x1="109.5" x2="109.5" y1="416.9" y2="403.0" stroke="#2f8e2f" stroke-width="0.95"/>
<line x1="112.6" x2="112.6" y1="416.9" y2="404.0" stroke="#2f8e2f" stroke-width="0.95"/>
<line x1="115.7" x2="115.7" y1="416.9" y2="406.0" stroke="#2f8e2f" stroke-width="0.95"/>
<line x1="118.9" x2="118.9" y1="416.9" y2="407.0" stroke="#2f8e2f" stroke-width="0.95"/>
<line x1="122.0" x2="122.0" y1="416.9" y2="410.0" stroke="#2f8e2f" stroke-width="0.95"/>
<line x1="125.2" x2="125.2" y1="416.9" y2="413.0" stroke="#2f8e2f" stroke-width="0.95"/>
<line x1="128.3" x2="128.3" y1="416.9" y2="410.0" stroke="#2f8e2f" stroke-width="0.95"/>
<line x1="131.5" x2="131.5" y1="416.9" y2="409.4" stroke="#2f8e2f" stroke-width="0.95"/>
<line x1="134.6" x2="134.6" y1="416.9" y2="410.0" stroke="#2f8e2f" stroke-width="0.95"/>
<line x1="137.7" x2="137.7" y1="416.9" y2="411.0" stroke="#2f8e2f" stroke-width="0.95"/>
<line x1="140.9" x2="140.9" y1="416.9" y2="412.6" stroke="#2f8e2f" stroke-width="0.95"/>
<line x1="144.0" x2="144.0" y1="416.9" y2="410.0" stroke="#2f8e2f" stroke-width="0.95"/>
<line x1="147.2" x2="147.2" y1="416.9" y2="408.6" stroke="#2f8e2f" stroke-width="0.95"/>
<line x1="150.3" x2="150.3" y1="416.9" y2="408.6" stroke="#2f8e2f" stroke-width="0.95"/>
<line x1="153.5" x2="153.5" y1="416.9" y2="409.4" stroke="#2f8e2f" stroke-width="0.95"/>
<line x1="156.6" x2="156.6" y1="416.9" y2="412.0" stroke="#2f8e2f" stroke-width="0.95"/>
<line x1="159.7" x2="159.7" y1="416.9" y2="415.0" stroke="#2f8e2f" stroke-width="0.95"/>
<line x1="162.9" x2="162.9" y1="416.9" y2="420.0" stroke="#2f8e2f" stroke-width="0.95"/>
<line x1="166.0" x2="166.0" y1="416.9" y2="422.0" stroke="#2f8e2f" stroke-width="0.95"/>
<line x1="169.2" x2="169.2" y1="416.9" y2="424.6" stroke="#2f8e2f" stroke-width="0.95"/>
<line x1="172.3" x2="172.3" y1="416.9" y2="424.6" stroke="#2f8e2f" stroke-width="0.95"/>
<line x1="175.5" x2="175.5" y1="416.9" y2="425.0" stroke="#2f8e2f" stroke-width="0.95"/>
<line x1="178.6" x2="178.6" y1="416.9" y2="423.0" stroke="#2f8e2f" stroke-width="0.95"/>
<line x1="181.8" x2="181.8" y1="416.9" y2="422.6" stroke="#2f8e2f" stroke-width="0.95"/>
<line x1="184.9" x2="184.9" y1="416.9" y2="422.6" stroke="#2f8e2f" stroke-width="0.95"/>
<line x1="188.0" x2="188.0" y1="416.9" y2="422.0" stroke="#2f8e2f" stroke-width="0.95"/>
<line x1="191.2" x2="191.2" y1="416.9" y2="421.4" stroke="#2f8e2f" stroke-width="0.95"/>
<line x1="194.3" x2="194.3" y1="416.9" y2="421.0" stroke="#2f8e2f" stroke-width="0.95"/>
<line x1="197.5" x2="197.5" y1="416.9" y2="420.6" stroke="#2f8e2f" stroke-width="0.95"/>
<line x1="200.6" x2="200.6" y1="416.9" y2="420.0" stroke="#2f8e2f" stroke-width="0.95"/>
<line x1="203.8" x2="203.8" y1="416.9" y2="420.6" stroke="#2f8e2f" stroke-width="0.95"/>
<line x1="206.9" x2="206.9" y1="416.9" y2="421.4" stroke="#2f8e2f" stroke-width="0.95"/>
<line x1="210.0" x2="210.0" y1="416.9" y2="422.0" stroke="#2f8e2f" stroke-width="0.95"/>
<line x1="213.2" x2="213.2" y1="416.9" y2="422.0" stroke="#2f8e2f" stroke-width="0.95"/>
<line x1="216.3" x2="216.3" y1="416.9" y2="421.4" stroke="#2f8e2f" stroke-width="0.95"/>
<line x1="219.5" x2="219.5" y1="416.9" y2="422.0" stroke="#2f8e2f" stroke-width="0.95"/>
<line x1="222.6" x2="222.6" y1="416.9" y2="426.0" stroke="#2f8e2f" stroke-width="0.95"/>
<line x1="225.8" x2="225.8" y1="416.9" y2="428.0" stroke="#2f8e2f" stroke-width="0.95"/>
<line x1="228.9" x2="228.9" y1="416.9" y2="429.4" stroke="#2f8e2f" stroke-width="0.95"/>
<line x1="232.0" x2="232.0" y1="416.9" y2="430.0" stroke="#2f8e2f" stroke-width="0.95"/>
<line x1="235.2" x2="235.2" y1="416.9" y2="430.0" stroke="#2f8e2f" stroke-width="0.95"/>
<line x1="238.3" x2="238.3" y1="416.9" y2="430.6" stroke="#2f8e2f" stroke-width="0.95"/>
<line x1="241.5" x2="241.5" y1="416.9" y2="430.6" stroke="#2f8e2f" stroke-width="0.95"/>
<line x1="244.6" x2="244.6" y1="416.9" y2="432.0" stroke="#2f8e2f" stroke-width="0.95"/>
<line x1="247.8" x2="247.8" y1="416.9" y2="433.0" stroke="#2f8e2f" stroke-width="0.95"/>
<line x1="250.9" x2="250.9" y1="416.9" y2="432.6" stroke="#2f8e2f" stroke-width="0.95"/>
<line x1="254.0" x2="254.0" y1="416.9" y2="432.0" stroke="#2f8e2f" stroke-width="0.95"/>
<line x1="257.2" x2="257.2" y1="416.9" y2="432.0" stroke="#2f8e2f" stroke-width="0.95"/>
<line x1="260.3" x2="260.3" y1="416.9" y2="432.6" stroke="#2f8e2f" stroke-width="0.95"/>
<line x1="263.5" x2="263.5" y1="416.9" y2="430.6" stroke="#2f8e2f" stroke-width="0.95"/>
<line x1="266.6" x2="266.6" y1="416.9" y2="429.4" stroke="#2f8e2f" stroke-width="0.95"/>
<line x1="269.8" x2="269.8" y1="416.9" y2="428.0" stroke="#2f8e2f" stroke-width="0.95"/>
<line x1="272.9" x2="272.9" y1="416.9" y2="426.0" stroke="#2f8e2f" stroke-width="0.95"/>
<line x1="276.0" x2="276.0" y1="416.9" y2="424.0" stroke="#2f8e2f" stroke-width="0.95"/>
<line x1="279.2" x2="279.2" y1="416.9" y2="421.4" stroke="#2f8e2f" stroke-width="0.95"/>
<line x1="282.3" x2="282.3" y1="416.9" y2="419.0" stroke="#2f8e2f" stroke-width="0.95"/>
<line x1="285.5" x2="285.5" y1="416.9" y2="417.4" stroke="#2f8e2f" stroke-width="0.95"/>
<line x1="288.6" x2="288.6" y1="416.9" y2="416.0" stroke="#2f8e2f" stroke-width="0.95"/>
<line x1="291.8" x2="291.8" y1="416.9" y2="412.0" stroke="#2f8e2f" stroke-width="0.95"/>
<line x1="294.9" x2="294.9" y1="416.9" y2="409.4" stroke="#2f8e2f" stroke-width="0.95"/>
<line x1="298.0" x2="298.0" y1="416.9" y2="408.6" stroke="#2f8e2f" stroke-width="0.95"/>
<line x1="301.2" x2="301.2" y1="416.9" y2="410.0" stroke="#2f8e2f" stroke-width="0.95"/>
<line x1="304.3" x2="304.3" y1="416.9" y2="411.0" stroke="#2f8e2f" stroke-width="0.95"/>
<line x1="307.5" x2="307.5" y1="416.9" y2="412.0" stroke="#2f8e2f" stroke-width="0.95"/>
<line x1="310.6" x2="310.6" y1="416.9" y2="414.6" stroke="#2f8e2f" stroke-width="0.95"/>
<line x1="316.9" x2="316.9" y1="416.9" y2="415.0" stroke="#2f8e2f" stroke-width="0.95"/>
<line x1="320.0" x2="320.0" y1="416.9" y2="412.0" stroke="#2f8e2f" stroke-width="0.95"/>
<line x1="323.2" x2="323.2" y1="416.9" y2="410.6" stroke="#2f8e2f" stroke-width="0.95"/>
<line x1="326.3" x2="326.3" y1="416.9" y2="410.0" stroke="#2f8e2f" stroke-width="0.95"/>
<line x1="329.5" x2="329.5" y1="416.9" y2="410.0" stroke="#2f8e2f" stroke-width="0.95"/>
<line x1="332.6" x2="332.6" y1="416.9" y2="409.4" stroke="#2f8e2f" stroke-width="0.95"/>
<line x1="335.8" x2="335.8" y1="416.9" y2="404.0" stroke="#2f8e2f" stroke-width="0.95"/>
<line x1="338.9" x2="338.9" y1="416.9" y2="401.0" stroke="#2f8e2f" stroke-width="0.95"/>
<line x1="342.0" x2="342.0" y1="416.9" y2="400.0" stroke="#2f8e2f" stroke-width="0.95"/>
<line x1="345.2" x2="345.2" y1="416.9" y2="401.0" stroke="#2f8e2f" stroke-width="0.95"/>
<line x1="348.3" x2="348.3" y1="416.9" y2="402.0" stroke="#2f8e2f" stroke-width="0.95"/>
<line x1="351.5" x2="351.5" y1="416.9" y2="403.0" stroke="#2f8e2f" stroke-width="0.95"/>
<line x1="354.6" x2="354.6" y1="416.9" y2="404.4" stroke="#2f8e2f" stroke-width="0.95"/>
<line x1="357.8" x2="357.8" y1="416.9" y2="406.0" stroke="#2f8e2f" stroke-width="0.95"/>
<line x1="360.9" x2="360.9" y1="416.9" y2="408.0" stroke="#2f8e2f" stroke-width="0.95"/>
<line x1="364.0" x2="364.0" y1="416.9" y2="410.0" stroke="#2f8e2f" stroke-width="0.95"/>
<line x1="367.2" x2="367.2" y1="416.9" y2="412.4" stroke="#2f8e2f" stroke-width="0.95"/>
<line x1="370.3" x2="370.3" y1="416.9" y2="413.6" stroke="#2f8e2f" stroke-width="0.95"/>
<line x1="373.5" x2="373.5" y1="416.9" y2="414.4" stroke="#2f8e2f" stroke-width="0.95"/>
<line x1="379.8" x2="379.8" y1="416.9" y2="417.4" stroke="#2f8e2f" stroke-width="0.95"/>
<line x1="382.9" x2="382.9" y1="416.9" y2="417.4" stroke="#2f8e2f" stroke-width="0.95"/>
<line x1="386.0" x2="386.0" y1="416.9" y2="417.4" stroke="#2f8e2f" stroke-width="0.95"/>
<line x1="389.2" x2="389.2" y1="416.9" y2="418.0" stroke="#2f8e2f" stroke-width="0.95"/>
<line x1="392.3" x2="392.3" y1="416.9" y2="417.4" stroke="#2f8e2f" stroke-width="0.95"/>
<line x1="401.8" x2="401.8" y1="416.9" y2="417.4" stroke="#2f8e2f" stroke-width="0.95"/>
<line x1="404.9" x2="404.9" y1="416.9" y2="419.6" stroke="#2f8e2f" stroke-width="0.95"/>
<line x1="408.0" x2="408.0" y1="416.9" y2="419.0" stroke="#2f8e2f" stroke-width="0.95"/>
<line x1="411.2" x2="411.2" y1="416.9" y2="419.0" stroke="#2f8e2f" stroke-width="0.95"/>
<line x1="414.3" x2="414.3" y1="416.9" y2="419.6" stroke="#2f8e2f" stroke-width="0.95"/>
<line x1="417.5" x2="417.5" y1="416.9" y2="420.0" stroke="#2f8e2f" stroke-width="0.95"/>
<line x1="420.6" x2="420.6" y1="416.9" y2="420.4" stroke="#2f8e2f" stroke-width="0.95"/>
<line x1="423.8" x2="423.8" y1="416.9" y2="419.0" stroke="#2f8e2f" stroke-width="0.95"/>
<line x1="426.9" x2="426.9" y1="416.9" y2="421.0" stroke="#2f8e2f" stroke-width="0.95"/>
<line x1="430.0" x2="430.0" y1="416.9" y2="423.0" stroke="#2f8e2f" stroke-width="0.95"/>
<line x1="433.2" x2="433.2" y1="416.9" y2="422.6" stroke="#2f8e2f" stroke-width="0.95"/>
<line x1="436.3" x2="436.3" y1="416.9" y2="422.0" stroke="#2f8e2f" stroke-width="0.95"/>
<line x1="439.5" x2="439.5" y1="416.9" y2="423.0" stroke="#2f8e2f" stroke-width="0.95"/>
<line x1="442.6" x2="442.6" y1="416.9" y2="430.6" stroke="#2f8e2f" stroke-width="0.95"/>
<line x1="445.8" x2="445.8" y1="416.9" y2="436.6" stroke="#2f8e2f" stroke-width="0.95"/>
<line x1="448.9" x2="448.9" y1="416.9" y2="439.0" stroke="#2f8e2f" stroke-width="0.95"/>
<line x1="452.0" x2="452.0" y1="416.9" y2="438.6" stroke="#2f8e2f" stroke-width="0.95"/>
<line x1="455.2" x2="455.2" y1="416.9" y2="438.0" stroke="#2f8e2f" stroke-width="0.95"/>
<line x1="458.3" x2="458.3" y1="416.9" y2="438.0" stroke="#2f8e2f" stroke-width="0.95"/>
<line x1="461.5" x2="461.5" y1="416.9" y2="438.0" stroke="#2f8e2f" stroke-width="0.95"/>
<line x1="464.6" x2="464.6" y1="416.9" y2="435.0" stroke="#2f8e2f" stroke-width="0.95"/>
<line x1="467.8" x2="467.8" y1="416.9" y2="433.4" stroke="#2f8e2f" stroke-width="0.95"/>
<line x1="470.9" x2="470.9" y1="416.9" y2="430.0" stroke="#2f8e2f" stroke-width="0.95"/>
<line x1="474.1" x2="474.1" y1="416.9" y2="429.4" stroke="#2f8e2f" stroke-width="0.95"/>
<line x1="477.2" x2="477.2" y1="416.9" y2="428.0" stroke="#2f8e2f" stroke-width="0.95"/>
<line x1="480.3" x2="480.3" y1="416.9" y2="426.0" stroke="#2f8e2f" stroke-width="0.95"/>
<line x1="483.5" x2="483.5" y1="416.9" y2="425.0" stroke="#2f8e2f" stroke-width="0.95"/>
<line x1="486.6" x2="486.6" y1="416.9" y2="423.4" stroke="#2f8e2f" stroke-width="0.95"/>
<line x1="489.8" x2="489.8" y1="416.9" y2="422.0" stroke="#2f8e2f" stroke-width="0.95"/>
<line x1="492.9" x2="492.9" y1="416.9" y2="421.4" stroke="#2f8e2f" stroke-width="0.95"/>
<line x1="496.1" x2="496.1" y1="416.9" y2="422.0" stroke="#2f8e2f" stroke-width="0.95"/>
<line x1="499.2" x2="499.2" y1="416.9" y2="423.0" stroke="#2f8e2f" stroke-width="0.95"/>
<line x1="502.3" x2="502.3" y1="416.9" y2="422.0" stroke="#2f8e2f" stroke-width="0.95"/>
<line x1="505.5" x2="505.5" y1="416.9" y2="421.0" stroke="#2f8e2f" stroke-width="0.95"/>
<line x1="508.6" x2="508.6" y1="416.9" y2="420.6" stroke="#2f8e2f" stroke-width="0.95"/>
<line x1="511.8" x2="511.8" y1="416.9" y2="419.4" stroke="#2f8e2f" stroke-width="0.95"/>
<line x1="518.1" x2="518.1" y1="416.9" y2="408.6" stroke="#2f8e2f" stroke-width="1.45"/>
<line x1="521.2" x2="521.2" y1="416.9" y2="404.6" stroke="#2f8e2f" stroke-width="1.45"/>
<line x1="524.3" x2="524.3" y1="416.9" y2="402.6" stroke="#2f8e2f" stroke-width="1.45"/>
<line x1="527.5" x2="527.5" y1="416.9" y2="400.0" stroke="#2f8e2f" stroke-width="1.45"/>
<polyline points="2.0,401.0 10.0,404.0 18.0,411.0 26.0,421.0 34.0,430.0 42.0,438.0 50.0,444.0 58.0,448.6 64.0,451.0 70.0,449.4 76.0,443.0 82.0,435.0 88.0,426.0 94.0,415.0 100.0,402.0 108.0,389.0 116.0,381.0 124.0,376.0 130.0,373.0 138.0,368.0 146.0,363.0 154.0,358.0 160.0,356.0 166.0,358.0 174.0,363.0 182.0,368.0 190.0,372.0 198.0,375.0 206.0,378.0 214.0,381.0 222.0,385.0 228.0,390.0 234.0,397.0 240.0,404.5 246.0,411.0 252.0,420.0 258.0,428.0 264.0,435.0 270.0,440.0 276.0,444.0 283.0,445.4 289.0,444.0 295.0,440.0 301.0,436.6 308.0,434.0 314.0,433.0 320.0,430.6 326.0,427.0 332.0,423.0 338.0,417.0 344.0,409.0 350.0,400.0 358.0,392.0 366.0,387.6 374.0,386.0 382.0,387.0 390.0,388.4 398.0,388.4 406.0,389.0 414.0,390.0 422.0,392.0 430.0,395.5 438.0,400.5 444.0,408.0 450.0,418.0 456.0,429.0 462.0,439.0 468.0,447.0 474.0,454.0 482.0,460.0 490.0,463.4 498.0,467.0 505.0,470.0 512.0,472.4 516.0,471.0 521.0,466.0 527.0,460.0" fill="none" stroke="#ff2020" stroke-width="1.0" stroke-dasharray="3.5 2.6"/>
<polyline points="2.0,406.0 8.0,410.0 15.0,415.0 20.0,423.0 25.0,433.0 30.0,440.0 35.0,445.0 40.0,448.0 46.0,453.0 51.0,454.0 56.0,456.4 62.0,454.0 66.0,450.0 70.0,443.0 76.0,430.0 82.0,418.0 86.0,415.0 90.0,400.0 96.0,381.0 100.0,376.0 106.0,376.0 112.0,372.0 118.0,368.6 125.0,372.0 132.0,363.0 138.0,361.0 144.0,356.0 150.0,351.0 155.0,350.6 160.0,354.0 165.0,363.0 170.0,370.0 176.0,374.0 182.0,374.6 188.0,377.0 194.0,378.0 200.0,379.4 206.0,382.0 212.0,386.0 220.0,390.0 226.0,399.0 232.0,408.0 240.0,416.0 245.0,426.0 252.0,435.0 257.0,438.0 260.0,444.0 265.0,449.0 271.0,451.4 278.0,449.4 285.0,447.0 290.0,440.0 294.0,434.0 298.0,430.0 302.0,429.4 307.0,428.0 311.0,431.4 314.4,433.4 319.0,427.0 324.0,422.0 330.0,418.0 334.0,410.0 338.0,402.0 340.0,399.0 345.0,392.0 350.0,387.0 356.0,382.4 365.0,382.4 373.0,383.6 380.0,388.0 387.0,388.4 390.0,389.6 398.0,387.0 405.0,392.0 412.0,392.4 420.0,396.4 424.0,394.4 430.0,402.0 435.0,404.4 439.0,406.4 442.0,415.0 444.0,425.0 449.0,438.0 455.0,449.0 461.0,459.0 466.0,463.0 471.0,464.6 476.0,467.0 483.0,469.0 487.0,468.0 494.0,470.0 500.0,474.4 505.0,475.4 511.0,475.4 515.0,471.0 518.0,461.0 522.0,452.0 527.0,442.6" fill="none" stroke="#2c2cff" stroke-width="1.12" stroke-linejoin="round"/>
</g>
<g fill="none" stroke="#555" stroke-width="1.45">
<path d="M2.05 340.4 V39.1"/>
<path d="M2.05 482 V342.3"/>
</g>
<g fill="none" stroke="#444" stroke-width="1.3">
<path d="M1.3 39.1 H668.2 V339.4"/>
<path d="M668.2 343 V482"/>
</g>
<g fill="none" stroke="#444" stroke-width="0.95">
<path d="M1.3 340.4 H667 Q668.2 340.4 668.2 339.2 M1.3 342.3 H667.4"/>
<path d="M1.3 482 H668.8" stroke="#333" stroke-width="1.05"/>
</g>
<line x1="2" x2="2" y1="482" y2="485" stroke="#222" stroke-width="1"/>
<line x1="53" x2="53" y1="482" y2="485" stroke="#222" stroke-width="1"/>
<line x1="103.2" x2="103.2" y1="482" y2="485" stroke="#222" stroke-width="1"/>
<line x1="153.4" x2="153.4" y1="482" y2="485" stroke="#222" stroke-width="1"/>
<line x1="203.6" x2="203.6" y1="482" y2="485" stroke="#222" stroke-width="1"/>
<line x1="253.8" x2="253.8" y1="482" y2="485" stroke="#222" stroke-width="1"/>
<line x1="304" x2="304" y1="482" y2="485" stroke="#222" stroke-width="1"/>
<line x1="354.2" x2="354.2" y1="482" y2="485" stroke="#222" stroke-width="1"/>
<line x1="404.6" x2="404.6" y1="482" y2="485" stroke="#222" stroke-width="1"/>
<line x1="454.8" x2="454.8" y1="482" y2="485" stroke="#222" stroke-width="1"/>
<line x1="505" x2="505" y1="482" y2="485" stroke="#222" stroke-width="1"/>
<line x1="668" x2="670.3" y1="53.6" y2="53.6" stroke="#222" stroke-width="1"/>
<text class="lb" x="672.6" y="56.3" textLength="22.0" lengthAdjust="spacingAndGlyphs">98.990</text>
<line x1="668" x2="670.3" y1="82.4" y2="82.4" stroke="#222" stroke-width="1"/>
<text class="lb" x="672.6" y="85.1" textLength="22.0" lengthAdjust="spacingAndGlyphs">98.720</text>
<line x1="668" x2="670.3" y1="110.6" y2="110.6" stroke="#222" stroke-width="1"/>
<text class="lb" x="672.6" y="113.3" textLength="22.0" lengthAdjust="spacingAndGlyphs">98.450</text>
<line x1="668" x2="670.3" y1="139.4" y2="139.4" stroke="#222" stroke-width="1"/>
<text class="lb" x="672.6" y="142.1" textLength="22.0" lengthAdjust="spacingAndGlyphs">98.175</text>
<line x1="668" x2="670.3" y1="167.2" y2="167.2" stroke="#222" stroke-width="1"/>
<text class="lb" x="672.6" y="169.9" textLength="22.0" lengthAdjust="spacingAndGlyphs">97.905</text>
<line x1="668" x2="670.3" y1="224.5" y2="224.5" stroke="#222" stroke-width="1"/>
<text class="lb" x="672.6" y="227.2" textLength="22.0" lengthAdjust="spacingAndGlyphs">97.365</text>
<line x1="668" x2="670.3" y1="253" y2="253" stroke="#222" stroke-width="1"/>
<text class="lb" x="672.6" y="255.7" textLength="22.0" lengthAdjust="spacingAndGlyphs">97.095</text>
<line x1="668" x2="670.3" y1="281.5" y2="281.5" stroke="#222" stroke-width="1"/>
<text class="lb" x="672.6" y="284.2" textLength="22.0" lengthAdjust="spacingAndGlyphs">96.820</text>
<line x1="668" x2="670.3" y1="309.6" y2="309.6" stroke="#222" stroke-width="1"/>
<text class="lb" x="672.6" y="312.3" textLength="22.0" lengthAdjust="spacingAndGlyphs">96.550</text>
<line x1="668" x2="670.3" y1="338.2" y2="338.2" stroke="#222" stroke-width="1"/>
<text class="lb" x="672.6" y="340.9" textLength="22.0" lengthAdjust="spacingAndGlyphs">96.280</text>
<rect x="669.6" y="192" width="28.2" height="7.6" fill="#000"/>
<text class="lw" x="672.6" y="198.7" textLength="22.0" lengthAdjust="spacingAndGlyphs">97.627</text>
<rect x="669.6" y="59.5" width="28.2" height="9.2" fill="#1414f2"/>
<text class="lw" x="672.6" y="67.0" textLength="22.0" lengthAdjust="spacingAndGlyphs">98.887</text>
<rect x="669.6" y="130.1" width="28.2" height="9.2" fill="#1414f2"/>
<text class="lw" x="672.6" y="137.6" textLength="22.0" lengthAdjust="spacingAndGlyphs">98.209</text>
<rect x="669.6" y="198.8" width="28.2" height="9.2" fill="#1414f2"/>
<text class="lw" x="672.6" y="206.3" textLength="22.0" lengthAdjust="spacingAndGlyphs">97.554</text>
<rect x="669.6" y="264.8" width="28.2" height="9.2" fill="#1414f2"/>
<text class="lw" x="672.6" y="272.3" textLength="22.0" lengthAdjust="spacingAndGlyphs">96.933</text>
<rect x="669.6" y="308.7" width="28.2" height="9.2" fill="#1414f2"/>
<text class="lw" x="672.6" y="316.2" textLength="22.0" lengthAdjust="spacingAndGlyphs">96.510</text>
<line x1="668" x2="670.3" y1="343.6" y2="343.6" stroke="#222" stroke-width="1"/>
<line x1="668" x2="670.3" y1="416.4" y2="416.4" stroke="#222" stroke-width="1"/>
<text class="lb" x="671.6" y="351.5" textLength="21.5" lengthAdjust="spacingAndGlyphs">0.2193</text>
<text class="lb" x="671.2" y="419.5" textLength="14" lengthAdjust="spacingAndGlyphs">0.00</text>
<text class="lb" x="671.6" y="479.0" textLength="19.4" lengthAdjust="spacingAndGlyphs">-0.194</text>
<polygon points="529.8,39 537.8,39 533.8,44.2" fill="#72879f"/>
<line x1="529.8" x2="537.8" y1="39.7" y2="39.7" stroke="#2f4156" stroke-width="0.9"/>
<polygon points="4.9,44.95 10.5,44.95 7.7,48.2" fill="#000"/>
<text class="lb" x="14.8" y="48.7" textLength="61.3" lengthAdjust="spacingAndGlyphs">DOLLAR_INDX,H4</text>
<text class="lb" x="6" y="353" textLength="128.4" lengthAdjust="spacingAndGlyphs">MACD(12,26,9) -0.0729 -0.1243 0.0514</text>
<text class="lb" x="2" y="492.6" textLength="40" lengthAdjust="spacingAndGlyphs">29 Oct 2019</text>
<text class="lb" x="52.8" y="492.6" textLength="40" lengthAdjust="spacingAndGlyphs">1 Nov 12:01</text>
<text class="lb" x="102.8" y="492.6" textLength="40" lengthAdjust="spacingAndGlyphs">6 Nov 05:01</text>
<text class="lb" x="152.8" y="492.6" textLength="40.4" lengthAdjust="spacingAndGlyphs">8 Nov 21:01</text>
<text class="lb" x="203.2" y="492.6" textLength="44.8" lengthAdjust="spacingAndGlyphs">13 Nov 13:01</text>
<text class="lb" x="253.2" y="492.6" textLength="44.8" lengthAdjust="spacingAndGlyphs">18 Nov 05:01</text>
<text class="lb" x="303.4" y="492.6" textLength="44.8" lengthAdjust="spacingAndGlyphs">20 Nov 21:01</text>
<text class="lb" x="353.4" y="492.6" textLength="44.8" lengthAdjust="spacingAndGlyphs">25 Nov 13:01</text>
<text class="lb" x="404" y="492.6" textLength="44.4" lengthAdjust="spacingAndGlyphs">28 Nov 05:01</text>
<text class="lb" x="454.2" y="492.6" textLength="39.2" lengthAdjust="spacingAndGlyphs">3 Dec 05:01</text>
<text class="lb" x="504.2" y="492.6" textLength="39.2" lengthAdjust="spacingAndGlyphs">5 Dec 21:01</text>
</svg></body></html>
